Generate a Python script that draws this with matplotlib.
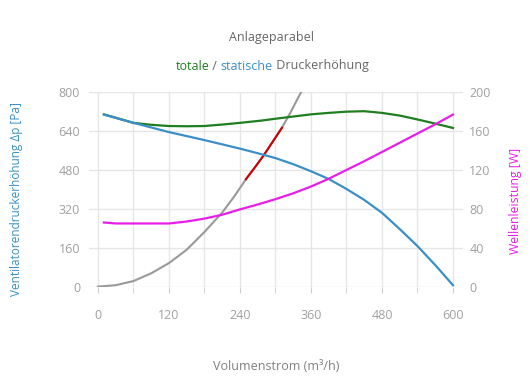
import matplotlib
matplotlib.use('Agg')
import matplotlib.pyplot as plt

plt.rcParams['font.family'] = ['Open Sans', 'DejaVu Sans']

# Anlageparabel (Pa)
x_anlage = [0, 30, 60, 90, 120, 150, 180, 210, 230, 250, 265, 280, 295, 311,
            325, 340, 350]
p_anlage = [0, 6, 23, 55, 97, 152, 225, 305, 370, 442, 490, 540, 595, 654,
            715, 785, 832]
# Betriebsbereich auf der Anlageparabel
x_betrieb = [250, 265, 280, 295, 311]
p_betrieb = [442, 490, 540, 595, 654]
# totale Druckerhöhung (Pa)
x_total = [10, 60, 90, 120, 150, 180, 210, 240, 275, 300, 330, 360, 390, 420,
           450, 480, 510, 540, 570, 600]
p_total = [709, 674, 666, 661, 660, 661, 667, 674, 683, 691, 700, 709, 715, 720,
           722, 715, 704, 688, 671, 653]
# statische Druckerhöhung (Pa)
x_static = [10, 60, 120, 180, 240, 270, 300, 330, 360, 390, 420, 450, 480, 510,
            540, 570, 600]
p_static = [708, 674, 636, 603, 568, 549, 529, 504, 475, 443, 402, 357, 304, 237,
            167, 89, 6]
# Wellenleistung (W)
x_power = [10, 30, 60, 120, 150, 180, 210, 240, 270, 300, 330, 360, 390, 420,
           450, 480, 510, 540, 570, 600]
w_power = [66, 65, 65, 65, 67, 70, 74, 79.5, 84.5, 90, 96, 103, 111, 120,
           129, 138.5, 148, 157.5, 167, 177]

c_green = '#1f7f1f'
c_blue = '#3a8fc8'
c_mag = '#e81ee8'
c_text = '#666666'
c_tick = '#a0a0a0'
c_grid = '#e6e6e6'

fig = plt.figure(figsize=(5.3, 3.9), dpi=100)
ax = fig.add_axes([0.167, 0.265, 0.7066, 0.4985])
ax2 = ax.twinx()

ax.plot(x_anlage, p_anlage, color='#999999', lw=1.5, zorder=3)
ax.plot(x_betrieb, p_betrieb, color='#cc0000', lw=1.5, zorder=4)
ax.plot(x_total, p_total, color=c_green, lw=1.6, zorder=5)
ax.plot(x_static, p_static, color=c_blue, lw=1.6, zorder=6)
ax2.plot(x_power, w_power, color=c_mag, lw=1.6, zorder=5)

ax.set_xlim(-16, 617)
ax.set_ylim(0, 800)
ax2.set_ylim(0, 200)

ax.set_xticks([0, 120, 240, 360, 480, 600])
ax.set_xticks(range(0, 601, 60), minor=True)
ax.set_yticks(range(0, 801, 160))
ax2.set_yticks(range(0, 201, 40))

ax.grid(True, which='both', axis='x', color=c_grid, lw=1, zorder=0)
ax.grid(True, which='major', axis='y', color=c_grid, lw=1, zorder=0)
ax.set_axisbelow(True)

for a in (ax, ax2):
    for s in a.spines.values():
        s.set_visible(False)

ax.tick_params(axis='x', which='both', length=4, color='#cccccc', pad=12,
               labelsize=9, labelcolor=c_tick)
ax.tick_params(axis='y', length=0, pad=6, labelsize=9, labelcolor=c_tick)
ax2.tick_params(axis='y', length=0, pad=4.5, labelsize=9, labelcolor=c_tick)

fig.text(0.513, 1 - 38 / 390, 'Anlageparabel', ha='center', va='center',
         fontsize=9, color=c_text)

# Untertitel mehrfarbig
parts = [('totale', c_green), (' / ', c_text), ('statische', c_blue),
         (' Druckerhöhung', c_text)]
renderer = fig.canvas.get_renderer()
tmp = fig.text(0, 0, ''.join(p[0] for p in parts), fontsize=9)
w = tmp.get_window_extent(renderer).width / fig.bbox.width
tmp.remove()
xs = 0.513 - w / 2
ys = 1 - 66 / 390
for txt, col in parts:
    t = fig.text(xs, ys, txt, ha='left', va='center', fontsize=9, color=col)
    xs += t.get_window_extent(renderer).width / fig.bbox.width

fig.text(17 / 530, 1 - 199 / 390, 'Ventilatorendruckerhöhung Δp [Pa]',
         rotation=90, ha='center', va='center', fontsize=8.5, color=c_blue)
fig.text(515 / 530, 1 - 201 / 390, 'Wellenleistung [W]', rotation=90,
         ha='center', va='center', fontsize=8.8, color=c_mag)
fig.text(276 / 530, 1 - 366 / 390, 'Volumenstrom (m³/h)', ha='center',
         va='center', fontsize=9, color='#808080')

fig.savefig('out.png', dpi=100)
